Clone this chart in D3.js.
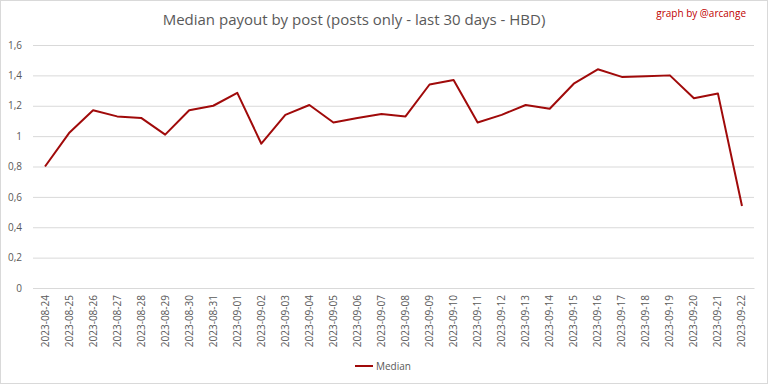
<!DOCTYPE html>
<html>
<head>
<meta charset="utf-8">
<script src="https://cdn.jsdelivr.net/npm/d3@7"></script>
<style>
  body { margin: 0; background: #fff; }
  svg { display: block; font-family: "Open Sans", "Liberation Sans", sans-serif; }
</style>
</head>
<body>
<div id="chart"></div>
<script>
// data
var dates = ["2023-08-24", "2023-08-25", "2023-08-26", "2023-08-27", "2023-08-28", "2023-08-29",
    "2023-08-30", "2023-08-31", "2023-09-01", "2023-09-02", "2023-09-03", "2023-09-04",
    "2023-09-05", "2023-09-06", "2023-09-07", "2023-09-08", "2023-09-09", "2023-09-10",
    "2023-09-11", "2023-09-12", "2023-09-13", "2023-09-14", "2023-09-15", "2023-09-16",
    "2023-09-17", "2023-09-18", "2023-09-19", "2023-09-20", "2023-09-21", "2023-09-22"];
var median = [0.80, 1.02, 1.17, 1.13, 1.12, 1.01, 1.17, 1.20, 1.285, 0.95, 1.14, 1.205,
    1.09, 1.12, 1.145, 1.13, 1.34, 1.37, 1.09, 1.14, 1.205, 1.18, 1.345, 1.44,
    1.39, 1.395, 1.40, 1.25, 1.28, 0.54];
var yTicks = [0, 0.2, 0.4, 0.6, 0.8, 1, 1.2, 1.4, 1.6];

var W = 768, H = 384;
var margin = { top: 45, right: 14, bottom: 96, left: 33 },
    width = W - margin.left - margin.right,
    height = H - margin.top - margin.bottom;

var svg = d3.select("#chart")
    .append("svg")
    .attr("width", W)
    .attr("height", H);

// outer border
svg.append("rect")
    .attr("x", 0.5).attr("y", 0.5)
    .attr("width", W - 1).attr("height", H - 1)
    .attr("fill", "#fff")
    .attr("stroke", "#d9d9d9");

svg.append("text")
    .attr("x", 354)
    .attr("y", 25)
    .attr("text-anchor", "middle")
    .style("font-size", "15px")
    .style("fill", "#595959")
    .text("Median payout by post (posts only - last 30 days - HBD)");

svg.append("text")
    .attr("x", 746)
    .attr("y", 17)
    .attr("text-anchor", "end")
    .style("font-size", "10px")
    .style("fill", "#c00000")
    .text("graph by @arcange");

var g = svg.append("g")
    .attr("transform", "translate(" + margin.left + "," + margin.top + ")");

var x = d3.scaleBand()
    .domain(dates)
    .range([0, width]);

var y = d3.scaleLinear()
    .domain([0, 1.6])
    .range([height, 0]);

// gridlines + y labels
var yAxis = g.append("g")
    .call(d3.axisLeft(y).tickValues(yTicks).tickSize(-width)
        .tickFormat(function(d) { return String(d).replace(".", ","); }));
yAxis.select(".domain").remove();
yAxis.selectAll("line").attr("stroke", "#d9d9d9");
yAxis.selectAll("text")
    .attr("x", -11)
    .style("font-size", "10px")
    .style("fill", "#595959")
    .style("font-family", "'Open Sans', sans-serif");

// x axis labels (rotated)
var xAxis = g.append("g")
    .attr("transform", "translate(0," + height + ")")
    .call(d3.axisBottom(x).tickSize(0));
xAxis.select(".domain").attr("stroke", "#d9d9d9");
xAxis.selectAll("text")
    .attr("transform", "rotate(-90)")
    .attr("text-anchor", "end")
    .attr("x", -7)
    .attr("y", 0)
    .attr("dy", "0.35em")
    .style("font-size", "10px")
    .style("fill", "#595959")
    .style("font-family", "'Open Sans', sans-serif");

var line = d3.line()
    .x(function(d, i) { return x(dates[i]) + x.bandwidth() / 2; })
    .y(function(d) { return y(d); });

g.append("path")
    .datum(median)
    .attr("d", line)
    .attr("fill", "none")
    .attr("stroke", "#a00a0a")
    .attr("stroke-width", 2)
    .attr("stroke-linejoin", "round");

// legend
var legend = svg.append("g").attr("transform", "translate(355,366)");
legend.append("line")
    .attr("x1", 0).attr("x2", 18)
    .attr("stroke", "#a00a0a")
    .attr("stroke-width", 2);
legend.append("text")
    .attr("x", 21)
    .attr("dy", "0.35em")
    .style("font-size", "10px")
    .style("fill", "#595959")
    .text("Median");
</script>
</body>
</html>
